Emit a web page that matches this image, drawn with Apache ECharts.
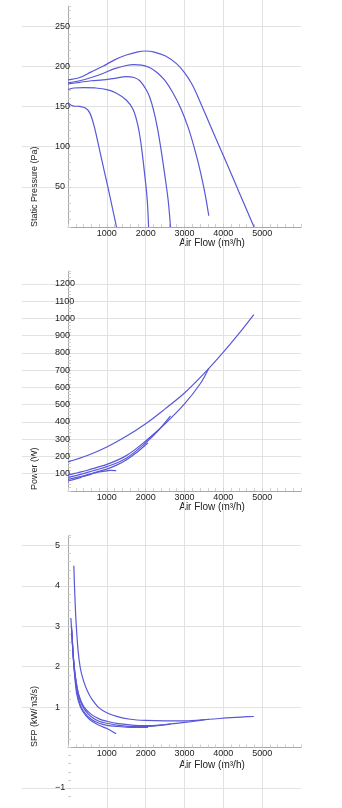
<!DOCTYPE html>
<html>
<head>
<meta charset="utf-8">
<script src="https://cdn.jsdelivr.net/npm/echarts@6/dist/echarts.min.js"></script>
<style>
html, body { margin: 0; padding: 0; background: #fff; }
#chart { width: 342px; height: 808px; }
</style>
</head>
<body>
<div id="chart"></div>
<script>
// fan curves, [air flow m3/h, value]
const pressureA = [[0,155],[60,152],[150,150.5],[300,150],[450,148],[560,142],[665,127],[776,104],[900,77],[1000,55.5],[1100,33.5],[1200,11],[1248,0]];
const pressureB = [[0,171],[150,173],[400,173.5],[700,173],[1000,171],[1250,166.5],[1500,158],[1680,146],[1806,125],[1890,100],[1980,63],[2040,34],[2075,0]];
const pressureC = [[0,178],[300,180],[600,182],[900,183],[1200,185],[1500,187],[1700,186],[1850,182],[2000,172],[2100,162],[2200,146],[2300,124],[2400,95],[2500,62],[2580,33],[2640,0]];
const pressureD = [[0,179.5],[300,182],[600,186],[900,191],[1200,197],[1500,201],[1700,202],[1900,201.5],[2100,198.5],[2300,192],[2500,182],[2700,167],[2900,148],[3100,123],[3300,90],[3450,60],[3550,36],[3625,14]];
const pressureE = [[0,183],[300,186],[600,193],[900,200],[1200,208],[1500,214],[1800,218],[2000,219],[2200,218],[2500,213],[2800,203],[3000,192],[3200,177],[3400,156],[3600,133.5],[3800,111],[4000,89],[4200,66.5],[4400,44],[4600,21.5],[4790,0]];

const powerA = [[0,58],[200,70],[400,84],[600,98],[800,110],[1000,117],[1100,120],[1240,118]];
const powerB = [[0,67],[250,80],[500,95],[750,111],[1000,127],[1250,150],[1500,180],[1750,220],[2060,280]];
const powerC = [[0,79],[250,92],[500,108],[750,124],[1000,141],[1500,190],[2000,280],[2300,345],[2640,436]];
const powerD = [[0,92],[250,106],[500,120],[750,137],[1000,154],[1500,205],[2000,290],[2500,390],[3000,505],[3400,620],[3625,712]];
const powerE = [[0,169],[500,206],[1000,255],[1500,317],[2000,390],[2500,476],[3000,568],[3500,680],[4000,805],[4500,940],[4785,1022]];

const sfpA = [[105,2.8],[130,2.3],[170,1.8],[230,1.3],[320,1.0],[450,0.8],[600,0.66],[800,0.55],[1000,0.47],[1120,0.41],[1240,0.34]];
const sfpB = [[100,2.9],[130,2.35],[170,1.85],[230,1.4],[320,1.05],[450,0.83],[600,0.7],[800,0.6],[1000,0.55],[1300,0.52],[1600,0.5],[1850,0.5],[2060,0.5]];
const sfpC = [[90,3.0],[120,2.5],[160,2.0],[220,1.55],[300,1.2],[420,0.95],[600,0.76],[800,0.65],[1000,0.6],[1300,0.55],[1700,0.52],[2000,0.52],[2300,0.54],[2640,0.58]];
const sfpD = [[75,3.2],[100,2.8],[140,2.2],[200,1.7],[280,1.3],[400,1.02],[600,0.82],[800,0.71],[1000,0.65],[1300,0.59],[1700,0.55],[2000,0.54],[2500,0.57],[3000,0.62],[3400,0.67],[3625,0.7]];
const sfpE = [[150,4.5],[175,3.8],[205,3.15],[260,2.4],[320,1.95],[400,1.65],[500,1.4],[600,1.22],[800,0.98],[1000,0.86],[1250,0.77],[1600,0.7],[2000,0.67],[2500,0.66],[3000,0.66],[3650,0.7],[4200,0.74],[4785,0.77]];

const flowTicks = [1000, 2000, 3000, 4000, 5000];
const xTitle = 'Air Flow (m³/h)';

const lineColor = '#5858d8';
const gridColor = '#e2e2e2';
const axisColor = '#a8a8a8';
const tickColor = '#cfcfcf';
const font = 'Liberation Sans, Arial, Helvetica, sans-serif';

const chart = echarts.init(document.getElementById('chart'));

// small inward ticks; labels only on the round values
const smallTick = { show: true, inside: true, length: 3, lineStyle: { color: tickColor } };
const onStep = (v, step) => Math.abs(v / step - Math.round(v / step)) < 1e-6;

const mainX = (gridIndex) => ({
    gridIndex, type: 'value', min: 0, max: 6000, interval: 200,
    axisLine: { show: true, onZero: false, lineStyle: { color: axisColor, width: 1 } },
    axisTick: smallTick,
    splitLine: { show: false },
    axisLabel: {
        margin: 2, fontSize: 9, color: '#222', fontFamily: font,
        formatter: v => flowTicks.includes(v) ? String(v) : ''
    }
});
const hiddenX = (gridIndex) => ({ gridIndex, type: 'value', min: 0, max: 6000, show: false });

const mainY = (gridIndex, min, max, step, labelStep) => ({
    gridIndex, type: 'value', min, max, interval: step,
    axisLine: { show: true, lineStyle: { color: axisColor, width: 1 } },
    axisTick: smallTick,
    splitLine: { show: false },
    axisLabel: {
        margin: 13, align: 'left', fontSize: 9, color: '#222', fontFamily: font,
        formatter: v => (v !== 0 && v < max && onStep(v, labelStep)) ? String(Math.round(v)).replace('-', '\u2212') : ''
    }
});
const lineY = (gridIndex, min, max, interval, showMin) => ({
    gridIndex, type: 'value', min, max, interval,
    axisLine: { show: false }, axisTick: { show: false }, axisLabel: { show: false },
    splitLine: { show: true, showMinLine: !!showMin, showMaxLine: false, lineStyle: { color: gridColor, width: 1 } }
});

const curve = (data, xAxisIndex, yAxisIndex) => ({
    type: 'line', data, xAxisIndex, yAxisIndex,
    smooth: 0.35, showSymbol: false, silent: true,
    lineStyle: { color: lineColor, width: 1.2 }
});

const title = (text, x, y, rotate) => ({
    type: 'text', x, y, rotation: rotate ? Math.PI / 2 : 0, silent: true,
    style: {
        text, fontSize: rotate ? 9 : 10, fontFamily: font, fill: '#222',
        align: rotate ? 'left' : 'center', verticalAlign: 'middle'
    }
});

const sfpBelow = mainY(8, -1.2, 0, 0.2, 1);
sfpBelow.offset = -46;
sfpBelow.axisLine = { show: false };

chart.setOption({
    animation: false,
    grid: [
        { left: 68, right: 41, top: 6, height: 221 },       // pressure
        { left: 22, right: 41, top: 6, height: 221 },
        { left: 68, right: 41, top: 271, height: 220 },     // power
        { left: 22, right: 41, top: 271, height: 220 },
        { left: 68, right: 41, top: 535.5, height: 212 },   // sfp
        { left: 22, right: 41, top: 535.5, height: 212 },
        { left: 22, right: 41, top: 747.5, height: 40.4 },  // sfp below zero, grid line
        { left: 68, right: 41, top: 0, bottom: 0 },         // full height vertical lines
        { left: 22, right: 41, top: 747.5, height: 48.5 }   // sfp below zero, ticks and label
    ],
    xAxis: [
        mainX(0), hiddenX(1), mainX(2), hiddenX(3), mainX(4), hiddenX(5), hiddenX(6),
        {
            gridIndex: 7, type: 'value', min: 0, max: 6000, interval: 1000,
            axisLine: { show: false }, axisTick: { show: false }, axisLabel: { show: false },
            splitLine: { show: true, showMinLine: false, showMaxLine: false, lineStyle: { color: gridColor, width: 1 } }
        },
        hiddenX(8)
    ],
    yAxis: [
        mainY(0, 0, 275, 10, 50), lineY(1, 0, 275, 50),
        mainY(2, 0, 1275, 20, 100), lineY(3, 0, 1275, 100),
        mainY(4, 0, 5.25, 0.2, 1), lineY(5, 0, 5.25, 1),
        lineY(6, -1, 0, 1, true),
        { gridIndex: 7, type: 'value', min: 0, max: 1, show: false },
        sfpBelow
    ],
    graphic: [
        title('Static Pressure (Pa)', 35, 227, true),
        title(xTitle, 212, 243, false),
        title('Power (W)', 35, 490, true),
        title(xTitle, 212, 507, false),
        title('SFP (kW/m3/s)', 35, 747, true),
        title(xTitle, 212, 765, false)
    ],
    series: [
        curve(pressureA, 0, 0), curve(pressureB, 0, 0), curve(pressureC, 0, 0), curve(pressureD, 0, 0), curve(pressureE, 0, 0),
        curve(powerA, 2, 2), curve(powerB, 2, 2), curve(powerC, 2, 2), curve(powerD, 2, 2), curve(powerE, 2, 2),
        curve(sfpA, 4, 4), curve(sfpB, 4, 4), curve(sfpC, 4, 4), curve(sfpD, 4, 4), curve(sfpE, 4, 4)
    ]
});
</script>
</body>
</html>
